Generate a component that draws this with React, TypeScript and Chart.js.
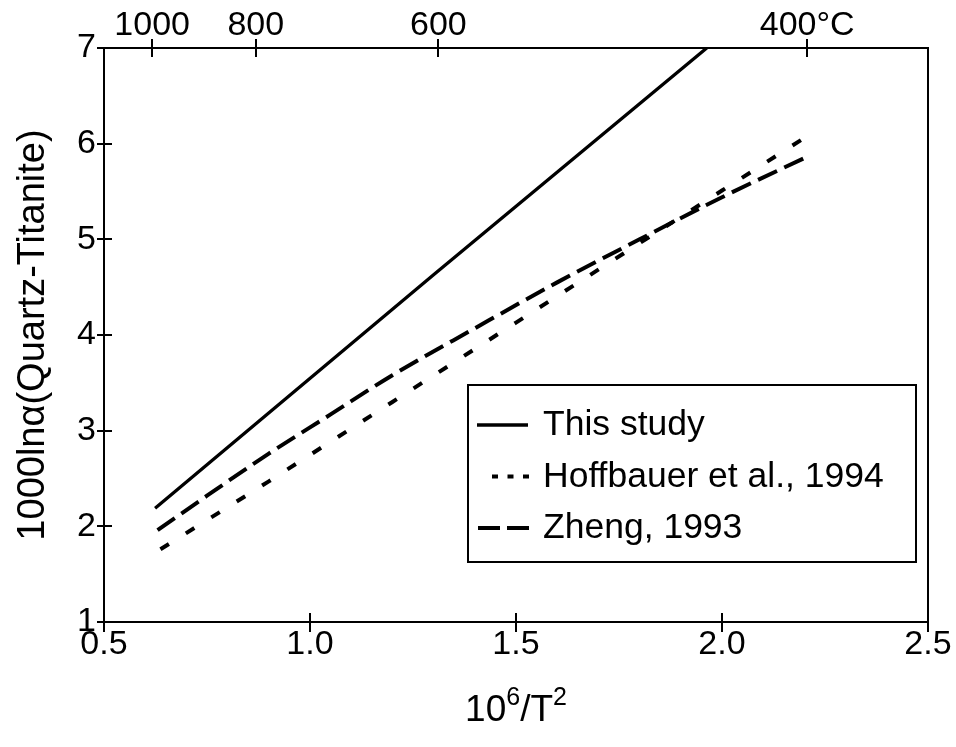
import { useEffect, useRef } from "react";
import { Chart, registerables } from "chart.js";

Chart.register(...registerables);

// ---- data ----
const thisStudyX = [0.624, 1.3, 1.963];
const thisStudyY = [2.19, 4.63, 7.0];
const hoffbauerX = [0.637, 0.9, 1.2, 1.5, 1.8, 2.0, 2.2];
const hoffbauerY = [1.76, 2.47, 3.3, 4.13, 4.96, 5.51, 6.06];
const zhengX = [0.63, 0.75, 0.9, 1.05, 1.2, 1.4, 1.6, 1.8, 2.0, 2.2];
const zhengY = [1.96, 2.32, 2.76, 3.17, 3.58, 4.07, 4.55, 5.0, 5.44, 5.85];
const seriesNames = ["This study", "Hoffbauer et al., 1994", "Zheng, 1993"];
const xTickValues = [0.5, 1.0, 1.5, 2.0, 2.5];
const yTickValues = [1, 2, 3, 4, 5, 6, 7];
const topTempsC = [1000, 800, 600, 400];
const topTickLabels = ["1000", "800", "600", "400°C"];
const yTitle = "1000lnα(Quartz-Titanite)";
const xTitleParts = ["10", "6", "/T", "2"]; // base, superscript, base, superscript

const FONT = '"Liberation Sans", Arial, Helvetica, sans-serif';
const dashHoff = [10, 20];
const dashZheng = [21, 8];

const toPts = (xs: number[], ys: number[]) => xs.map((x, i) => ({ x, y: ys[i] }));
const topTickPositions = topTempsC.map((c) => 1e6 / Math.pow(c + 273.15, 2));

const decorPlugin = {
  id: "decor",
  afterDraw(chart: any) {
    const { ctx, chartArea: a, scales } = chart;
    ctx.save();
    ctx.strokeStyle = "#000";
    ctx.lineWidth = 2;
    ctx.setLineDash([]);
    // right frame line
    ctx.beginPath();
    ctx.moveTo(a.right, a.top);
    ctx.lineTo(a.right, a.bottom);
    ctx.stroke();
    // crossing tick marks
    const line = (x1: number, y1: number, x2: number, y2: number) => {
      ctx.beginPath();
      ctx.moveTo(x1, y1);
      ctx.lineTo(x2, y2);
      ctx.stroke();
    };
    for (const t of scales.x.ticks) {
      const px = Math.round(scales.x.getPixelForValue(t.value));
      line(px, a.bottom - 9, px, a.bottom + 10);
    }
    for (const t of scales.x2.ticks) {
      const px = Math.round(scales.x2.getPixelForValue(t.value));
      line(px, a.top - 9, px, a.top + 9);
    }
    for (const t of scales.y.ticks) {
      const py = Math.round(scales.y.getPixelForValue(t.value));
      line(a.left - 7, py, a.left + 8, py);
    }

    // x-axis title with superscripts
    const mainFont = `37px ${FONT}`;
    const supFont = `25px ${FONT}`;
    ctx.fillStyle = "#000";
    ctx.textBaseline = "alphabetic";
    ctx.textAlign = "left";
    const widths = xTitleParts.map((p, i) => {
      ctx.font = i % 2 === 0 ? mainFont : supFont;
      return ctx.measureText(p).width;
    });
    const total = widths.reduce((s, w) => s + w, 0);
    let cx = (a.left + a.right) / 2 - total / 2;
    const baseY = a.bottom + 99;
    xTitleParts.forEach((p, i) => {
      const sup = i % 2 === 1;
      ctx.font = sup ? supFont : mainFont;
      ctx.fillText(p, cx, sup ? baseY - 16 : baseY);
      cx += widths[i];
    });

    // legend box
    const lx = a.left + 364;
    const ly = a.top + 337;
    const lw = 448;
    const lh = 177;
    ctx.fillStyle = "#fff";
    ctx.fillRect(lx, ly, lw, lh);
    ctx.strokeStyle = "#000";
    ctx.lineWidth = 2;
    ctx.strokeRect(lx, ly, lw, lh);
    const rows = [
      { dash: [] as number[], x0: lx + 9, x1: lx + 60, w: 3.3 },
      { dash: [6, 9.5], x0: lx + 24, x1: lx + 61, w: 4 },
      { dash: [22, 7], x0: lx + 10, x1: lx + 61, w: 4 },
    ];
    ctx.font = `35.5px ${FONT}`;
    rows.forEach((r, i) => {
      const base = ly + 50 + i * 51.5;
      ctx.lineWidth = r.w;
      ctx.setLineDash(r.dash);
      ctx.beginPath();
      ctx.moveTo(r.x0, base - 10);
      ctx.lineTo(r.x1, base - 10);
      ctx.stroke();
      ctx.setLineDash([]);
      ctx.fillStyle = "#000";
      ctx.fillText(seriesNames[i], lx + 75, base);
    });
    ctx.restore();
  },
};

export default function App() {
  const ref = useRef<HTMLCanvasElement>(null);
  useEffect(() => {
    if (!ref.current) return;
    const tickFont = { family: FONT, size: 34 };
    const chart = new Chart(ref.current, {
      type: "line",
      data: {
        datasets: [
          {
            label: seriesNames[0],
            data: toPts(thisStudyX, thisStudyY),
            borderColor: "#000",
            borderWidth: 3.3,
            pointRadius: 0,
            fill: false,
          },
          {
            label: seriesNames[1],
            data: toPts(hoffbauerX, hoffbauerY),
            borderColor: "#000",
            borderWidth: 4,
            borderDash: dashHoff,
            pointRadius: 0,
            fill: false,
          },
          {
            label: seriesNames[2],
            data: toPts(zhengX, zhengY),
            borderColor: "#000",
            borderWidth: 4,
            borderDash: dashZheng,
            pointRadius: 0,
            cubicInterpolationMode: "monotone",
            fill: false,
          },
        ],
      },
      options: {
        animation: false,
        responsive: false,
        devicePixelRatio: 1,
        parsing: false as any,
        layout: { padding: { left: 0, right: 28, top: 0, bottom: 0 } },
        plugins: {
          legend: { display: false },
          tooltip: { enabled: false },
        },
        scales: {
          x: {
            type: "linear",
            position: "bottom",
            min: 0.5,
            max: 2.5,
            afterBuildTicks: (s: any) => {
              s.ticks = xTickValues.map((v) => ({ value: v }));
            },
            afterFit: (s: any) => {
              s.height = 125;
            },
            ticks: {
              autoSkip: false,
              maxRotation: 0,
              padding: 2,
              color: "#000",
              font: tickFont,
              callback: (v: any) => Number(v).toFixed(1),
            },
            grid: { drawOnChartArea: false, drawTicks: false },
            border: { display: true, color: "#000", width: 2 },
          },
          x2: {
            type: "linear",
            position: "top",
            min: 0.5,
            max: 2.5,
            afterBuildTicks: (s: any) => {
              s.ticks = topTickPositions.map((v) => ({ value: v }));
            },
            afterFit: (s: any) => {
              s.height = 48;
            },
            ticks: {
              autoSkip: false,
              maxRotation: 0,
              padding: 2,
              color: "#000",
              font: tickFont,
              callback: (_v: any, i: number) => topTickLabels[i],
            },
            grid: { drawOnChartArea: false, drawTicks: false },
            border: { display: true, color: "#000", width: 2 },
          },
          y: {
            type: "linear",
            min: 1,
            max: 7,
            afterBuildTicks: (s: any) => {
              s.ticks = yTickValues.map((v) => ({ value: v }));
            },
            afterFit: (s: any) => {
              s.width = 104;
            },
            ticks: {
              autoSkip: false,
              padding: 8,
              color: "#000",
              font: tickFont,
              callback: (v: any) => String(v),
            },
            title: {
              display: true,
              text: yTitle,
              color: "#000",
              font: { family: FONT, size: 38 },
              padding: { top: 11, bottom: 0 },
            },
            grid: { drawOnChartArea: false, drawTicks: false },
            border: { display: true, color: "#000", width: 2 },
          },
        },
      } as any,
      plugins: [decorPlugin],
    });
    return () => chart.destroy();
  }, []);

  return (
    <div style={{ position: "fixed", left: 0, top: 0, width: 956, height: 747, background: "#fff" }}>
      <canvas ref={ref} width={956} height={747} style={{ display: "block" }} />
    </div>
  );
}
